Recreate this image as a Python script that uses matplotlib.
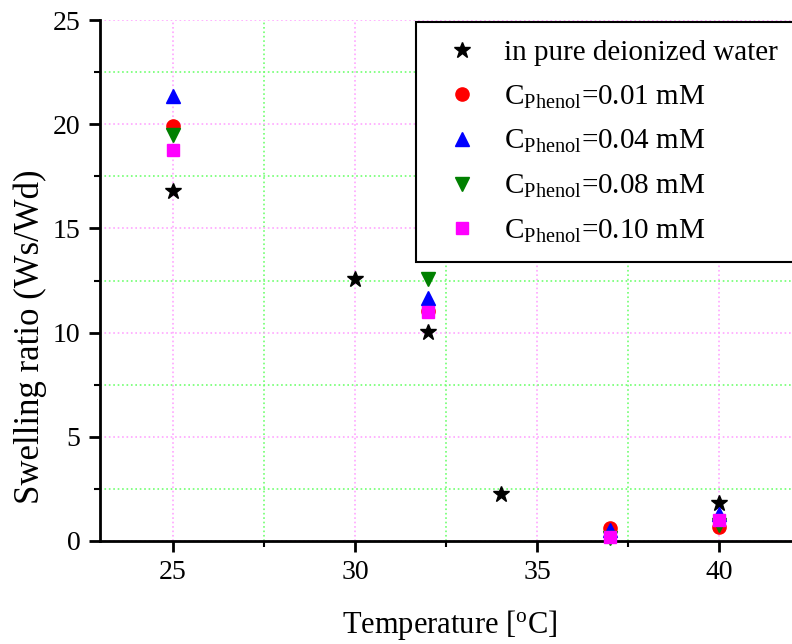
import matplotlib
matplotlib.use("Agg")
import matplotlib.pyplot as plt
from matplotlib.ticker import MultipleLocator

plt.rcParams['font.family'] = ['Liberation Serif', 'DejaVu Serif']
plt.rcParams['mathtext.fontset'] = 'custom'
plt.rcParams['mathtext.rm'] = 'Liberation Serif'
plt.rcParams['mathtext.it'] = 'Liberation Serif:italic'

# data
temp_water = [25, 30, 32, 34, 40]
sr_water = [16.8, 12.55, 10.05, 2.25, 1.8]
temp_phenol = [25, 32, 37, 40]
sr_001 = [19.9, 11.05, 0.62, 0.67]
sr_004 = [21.35, 11.65, 0.55, 1.3]
sr_008 = [19.5, 12.55, 0.15, 0.77]
sr_010 = [18.75, 11.0, 0.18, 1.02]

labels = ['in pure deionized water',
          r'C$_{\mathrm{Phenol}}$=0.01 mM',
          r'C$_{\mathrm{Phenol}}$=0.04 mM',
          r'C$_{\mathrm{Phenol}}$=0.08 mM',
          r'C$_{\mathrm{Phenol}}$=0.10 mM']

fig = plt.figure(figsize=(7.92, 6.44), dpi=100)
ax = fig.add_axes([100/792, 1-541/644, 1-100/792, (541-20)/644])

ax.plot(temp_water, sr_water, ls='none', marker='*', color='black', ms=12, label=labels[0], clip_on=False, zorder=3)
ax.plot(temp_phenol, sr_001, ls='none', marker='o', color='red', ms=9.5, label=labels[1], clip_on=False, zorder=3)
ax.plot(temp_phenol, sr_004, ls='none', marker='^', color='blue', ms=10.5, label=labels[2], clip_on=False, zorder=3)
ax.plot(temp_phenol, sr_008, ls='none', marker='v', color='green', ms=10.5, label=labels[3], clip_on=False, zorder=3)
ax.plot(temp_phenol, sr_010, ls='none', marker='s', color='magenta', ms=8.5, label=labels[4], clip_on=False, zorder=3)

ax.set_xlim(23, 42)
ax.set_ylim(0, 25)
ax.xaxis.set_major_locator(MultipleLocator(5))
ax.xaxis.set_minor_locator(MultipleLocator(2.5))
ax.yaxis.set_major_locator(MultipleLocator(5))
ax.yaxis.set_minor_locator(MultipleLocator(2.5))

ax.grid(which='major', color='#ffa6ff', ls=':', lw=1.2)
ax.grid(which='minor', color='#70ff70', ls=':', lw=1.2)
ax.set_axisbelow(True)

for s in ['top', 'right']:
    ax.spines[s].set_visible(False)
for s in ['left', 'bottom']:
    ax.spines[s].set_linewidth(2)

ax.tick_params(which='major', direction='out', length=8, width=2, labelsize=20, pad=6)
ax.tick_params(which='minor', direction='out', length=4, width=1.5)

ax.set_xlabel('Temperature [$^{\\mathrm{o}}$C]', fontsize=22)
ax.set_ylabel('Swelling ratio (Ws/Wd)', fontsize=25)
ax.xaxis.set_label_coords((450-100)/692, (541-625)/521)
ax.xaxis.label.set_va('center')
ax.yaxis.set_label_coords((30-100)/692, (541-337)/521)
ax.yaxis.label.set_va('center')

leg = fig.legend(loc='upper left', bbox_to_anchor=(416/792, 1-22/644), fontsize=21,
                 frameon=True, fancybox=False, edgecolor='black', framealpha=1,
                 handlelength=1.95, handletextpad=0.46, labelspacing=0.6,
                 borderpad=0.6, borderaxespad=0, numpoints=1)
leg.get_frame().set_linewidth(1.5)

fig.savefig('out.png', dpi=100)
